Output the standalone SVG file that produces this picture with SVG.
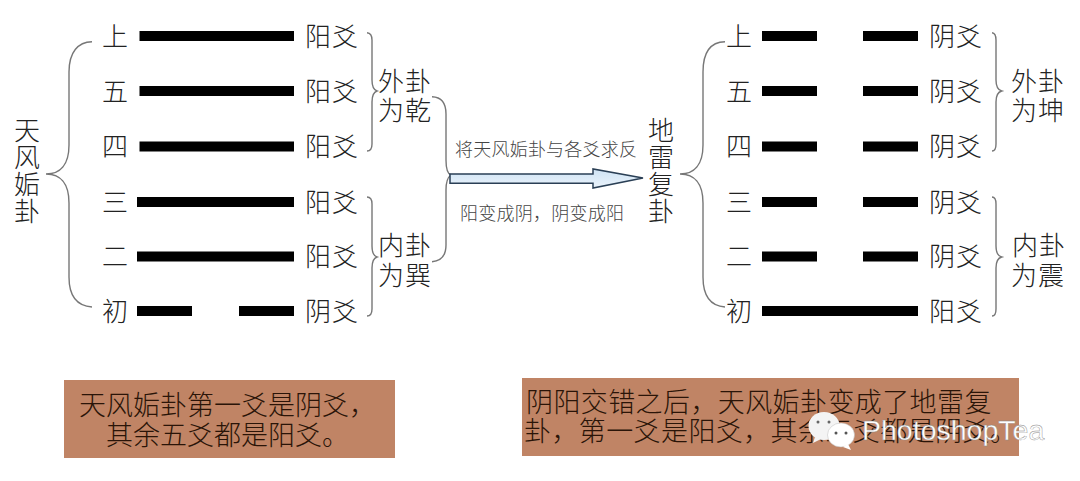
<svg xmlns="http://www.w3.org/2000/svg" width="1080" height="481" viewBox="0 0 1080 481">
<style>
text{font-family:"Noto Sans CJK SC","Noto Sans CJK JP",sans-serif;font-weight:300;fill:#222}
.l{font-size:26px}
.t{font-size:26px;letter-spacing:1px;writing-mode:vertical-rl;text-orientation:upright}
.v{font-size:26px;letter-spacing:1px}
.s{font-size:18px;fill:#444}
.b{font-size:27px;fill:#2a1408}
.bar{fill:#000}
.br{fill:none;stroke:#777;stroke-width:1.4}
.box{fill:#c08465}
</style>
<defs>
<linearGradient id="ag" x1="0" y1="0" x2="0" y2="1"><stop offset="0" stop-color="#cfe3f4"/><stop offset="1" stop-color="#eaf3fb"/></linearGradient>
</defs>
<rect width="1080" height="481" fill="#fff"/>
<g id="connectors">
<path class="br" d="M92 41.700C78 42 69 52 69 72V145C69 165 60 174 46 174C60 174 69 183 69 203V277C69 297 78 306 92 307"/>
<path class="br" d="M367 32.700C370 33 372 35 372 40V80C372 87 374 90 377 91C374 92 372 95 372 102V144C372 149 370 151 367 151"/>
<path class="br" d="M367 197C370 197 372 199 372 204V246C372 253 374 256 377 257C374 258 372 261 372 268V309C372 314 370 316 367 316"/>
<path class="br" d="M432 96.700C441 97 446 103 446 114V160C446 169 448 174 451 175C448 177 446 182 446 190V245C446 256 441 261 432 261.700"/>
<path class="br" d="M725 41.700C711 42 703 52 703 72V145C703 165 694 174 680 174C694 174 703 183 703 203V277C703 297 711 306 725 307"/>
<path class="br" d="M992 32.700C995 33 996 35 996 40V80C996 87 998 90 1001.700 91C998 92 996 95 996 102V144C996 149 995 151 992 151"/>
<path class="br" d="M992 197C995 197 996 199 996 204V246C996 253 998 256 1001.700 257C998 258 996 261 996 268V309C996 314 995 316 992 316"/>
<path id="arrow" d="M450 174H593V169L643 178L593 188V183.300H450Z" fill="url(#ag)" stroke="#2a3f55" stroke-width="1.500"/>
</g>
<g id="left-title"><text class="t" x="27" y="117">天风姤卦</text></g>
<g id="left-lines">
<g id="l6"><text class="l" x="102" y="46">上</text><rect class="bar" x="139.500" y="31" width="154.500" height="10"/><text class="v" x="305" y="46">阳爻</text></g>
<g id="l5"><text class="l" x="102" y="101">五</text><rect class="bar" x="139.500" y="86" width="154.500" height="10"/><text class="v" x="305" y="101">阳爻</text></g>
<g id="l4"><text class="l" x="102" y="156">四</text><rect class="bar" x="139.500" y="141.500" width="154.500" height="10"/><text class="v" x="305" y="156">阳爻</text></g>
<g id="l3"><text class="l" x="102" y="212">三</text><rect class="bar" x="137" y="197" width="157" height="10"/><text class="v" x="305" y="212">阳爻</text></g>
<g id="l2"><text class="l" x="102" y="266">二</text><rect class="bar" x="137" y="251.500" width="157" height="10"/><text class="v" x="305" y="266">阳爻</text></g>
<g id="l1"><text class="l" x="102" y="321">初</text><rect class="bar" x="137" y="306" width="55" height="10"/><rect class="bar" x="239" y="306" width="55" height="10"/><text class="v" x="305" y="321">阴爻</text></g>
</g>
<g id="left-outer"><text class="v"><tspan x="378" y="91">外卦</tspan><tspan x="378" y="120">为乾</tspan></text></g>
<g id="left-inner"><text class="v"><tspan x="378" y="255">内卦</tspan><tspan x="378" y="285">为巽</tspan></text></g>
<g id="mid-labels"><text class="s" x="455" y="156" textLength="182">将天风姤卦与各爻求反</text><text class="s" x="460" y="220" textLength="164">阳变成阴，阴变成阳</text></g>
<g id="right-title"><text class="t" x="661" y="117">地雷复卦</text></g>
<g id="right-lines">
<g id="r6"><text class="l" x="726" y="46">上</text><rect class="bar" x="762" y="31" width="55" height="10"/><rect class="bar" x="863" y="31" width="55" height="10"/><text class="v" x="929" y="46">阴爻</text></g>
<g id="r5"><text class="l" x="726" y="101">五</text><rect class="bar" x="762" y="86" width="55" height="10"/><rect class="bar" x="863" y="86" width="55" height="10"/><text class="v" x="929" y="101">阴爻</text></g>
<g id="r4"><text class="l" x="726" y="156">四</text><rect class="bar" x="762" y="141.500" width="55" height="10"/><rect class="bar" x="863" y="141.500" width="55" height="10"/><text class="v" x="929" y="156">阴爻</text></g>
<g id="r3"><text class="l" x="726" y="212">三</text><rect class="bar" x="762" y="197" width="55" height="10"/><rect class="bar" x="863" y="197" width="55" height="10"/><text class="v" x="929" y="212">阴爻</text></g>
<g id="r2"><text class="l" x="726" y="266">二</text><rect class="bar" x="762" y="251.500" width="55" height="10"/><rect class="bar" x="863" y="251.500" width="55" height="10"/><text class="v" x="929" y="266">阴爻</text></g>
<g id="r1"><text class="l" x="726" y="321">初</text><rect class="bar" x="762" y="306" width="156" height="10"/><text class="v" x="929" y="321">阳爻</text></g>
</g>
<g id="right-outer"><text class="v"><tspan x="1011" y="91">外卦</tspan><tspan x="1011" y="120">为坤</tspan></text></g>
<g id="right-inner"><text class="v"><tspan x="1012" y="255">内卦</tspan><tspan x="1011" y="285">为震</tspan></text></g>
<g id="note-left"><rect class="box" x="64" y="380" width="331" height="78"/><text class="b"><tspan x="79" y="415">天风姤卦第一爻是阴爻，</tspan><tspan x="106" y="445">其余五爻都是阳爻。</tspan></text></g>
<g id="note-right"><rect class="box" x="522" y="378" width="497" height="78"/><text class="b" style="letter-spacing:.4px"><tspan x="526" y="412">阴阳交错之后，天风姤卦变成了地雷复</tspan><tspan x="524" y="441">卦，第一爻是阳爻，其余五爻都是阴爻。</tspan></text></g>
<g id="watermark">
<ellipse cx="824" cy="426" rx="15.500" ry="14" fill="#f4f4f4"/>
<path d="M815 437l-2 6 8-4z" fill="#f4f4f4"/>
<ellipse cx="841" cy="435" rx="13.500" ry="12" fill="#fff" stroke="#bbb" stroke-width=".5"/>
<path d="M848 444l3 6-8-3z" fill="#fff"/>
<circle cx="818" cy="422" r="1.500" fill="#666"/><circle cx="829" cy="422" r="1.500" fill="#666"/>
<circle cx="836" cy="433" r="1.500" fill="#555"/><circle cx="846" cy="433" r="1.500" fill="#555"/>
<text x="862" y="440" style="font-family:'Liberation Sans',sans-serif;font-size:28.500px;font-weight:400;fill:#fff;stroke:#888;stroke-width:.4">PhotoshopTea</text>
</g>
</svg>
